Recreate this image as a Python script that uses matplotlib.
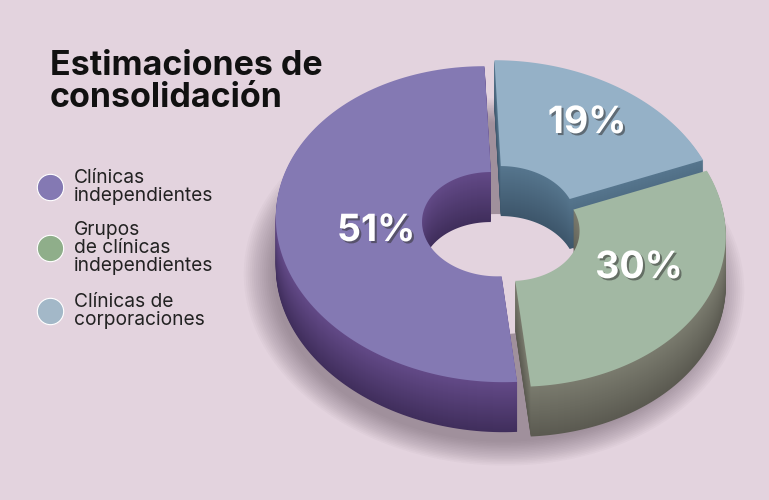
import matplotlib
matplotlib.use("Agg")
import matplotlib.pyplot as plt
import matplotlib.patheffects as pe
import numpy as np

labels = ["Clínicas\nindependientes", "Grupos\nde clínicas\nindependientes", "Clínicas de\ncorporaciones"]
values = [51, 30, 19]
top_colors = ["#8479b3", "#a2b8a3", "#95b1c7"]
side_top = ["#634a88", "#7a7b6e", "#56768e"]
side_bottom = ["#402e5c", "#5b5a51", "#3d566b"]
legend_colors = ["#8479b3", "#8fae8a", "#a3b8c8"]

BG = "#e3d3de"
W, H = 769, 500

# donut geometry, pixel space
cx, cy = 500, 224
a, b = 218, 158
inner = 0.33
depth = 50
shear = 0.06
explode = [6, 9, 7]
start = 90.0


def to_screen(u, v, dx, dy):
    # u, v relative to centre with v pointing up; slight shear for perspective
    y = -v
    return cx + dx + u + shear * y, cy + dy + y


def ring_poly(t0, t1, dx, dy, n=120):
    t = np.radians(np.linspace(t0, t1, n))
    xo, yo = to_screen(a * np.cos(t), b * np.sin(t), dx, dy)
    tr = t[::-1]
    xi, yi = to_screen(a * inner * np.cos(tr), b * inner * np.sin(tr), dx, dy)
    return np.concatenate([xo, xi]), np.concatenate([yo, yi])


def mix(c1, c2, f):
    c1 = np.array(matplotlib.colors.to_rgb(c1))
    c2 = np.array(matplotlib.colors.to_rgb(c2))
    return tuple(c1 + (c2 - c1) * f)


fig = plt.figure(figsize=(W / 100, H / 100), dpi=100)
fig.patch.set_facecolor(BG)
ax = fig.add_axes([0, 0, 1, 1])
ax.set_xlim(0, W)
ax.set_ylim(H, 0)
ax.axis("off")

# slice angles: purple counterclockwise from top, then green, then blue
total = sum(values)
spans = []
t = start
for v in values:
    spans.append((t, t + v / total * 360))
    t += v / total * 360

offsets = []
for (t0, t1), e in zip(spans, explode):
    mid = np.radians((t0 + t1) / 2)
    offsets.append((e * np.cos(mid), -e * np.sin(mid)))

# soft shadow, mostly below and to the left
tt = np.radians(np.linspace(0, 360, 200))
for k in range(16, 0, -1):
    xs, ys = to_screen((a + k * 2.0) * np.cos(tt), (b + k * 1.6) * np.sin(tt), -6, depth + 8)
    ax.fill(xs, ys, color="#4a3a48", alpha=0.03, lw=0, zorder=1)
# hole floor shows the background
xs, ys = to_screen(a * inner * 1.15 * np.cos(tt), b * inner * 1.15 * np.sin(tt), 0, depth)
ax.fill(xs, ys, color=BG, lw=0, zorder=1.5)

order = [2, 0, 1]
# extruded sides: stack of layers from bottom up
for k in range(depth, 0, -1):
    f = k / depth
    for i in order:
        t0, t1 = spans[i]
        dx, dy = offsets[i]
        xs, ys = ring_poly(t0, t1, dx, dy + k)
        ax.fill(xs, ys, color=mix(side_top[i], side_bottom[i], f), lw=0, zorder=2)

# top faces
for i in order:
    t0, t1 = spans[i]
    dx, dy = offsets[i]
    xs, ys = ring_poly(t0, t1, dx, dy)
    ax.fill(xs, ys, color=top_colors[i], lw=0, zorder=3)

# percentage labels
label_pos = [(376, 231), (639, 268), (587, 123)]
for i, v in enumerate(values):
    x, y = label_pos[i]
    ax.text(x, y, f"{v}%", color="white", fontsize=27, fontweight="bold",
            family=["Inter", "DejaVu Sans"], ha="center", va="center", zorder=5,
            path_effects=[pe.withSimplePatchShadow(offset=(1.5, -1.5), shadow_rgbFace="#333333", alpha=0.55)])

# title
ax.text(50, 50, "Estimaciones de\nconsolidación", color="#111111", fontsize=24.5,
        fontweight="bold", family=["Inter", "DejaVu Sans"], ha="left", va="top",
        linespacing=1.0, zorder=5)

# legend
leg_y = [187, 248, 311]
for i, lab in enumerate(labels):
    ax.scatter([50], [leg_y[i]], s=360, color=legend_colors[i], edgecolors="white",
               linewidths=0.8, zorder=5)
    ax.text(74, leg_y[i], lab, color="#222222", fontsize=13.8, family=["Inter", "DejaVu Sans"],
            ha="left", va="center", linespacing=1.0, zorder=5)

fig.savefig("out.png", dpi=100, facecolor=BG)
